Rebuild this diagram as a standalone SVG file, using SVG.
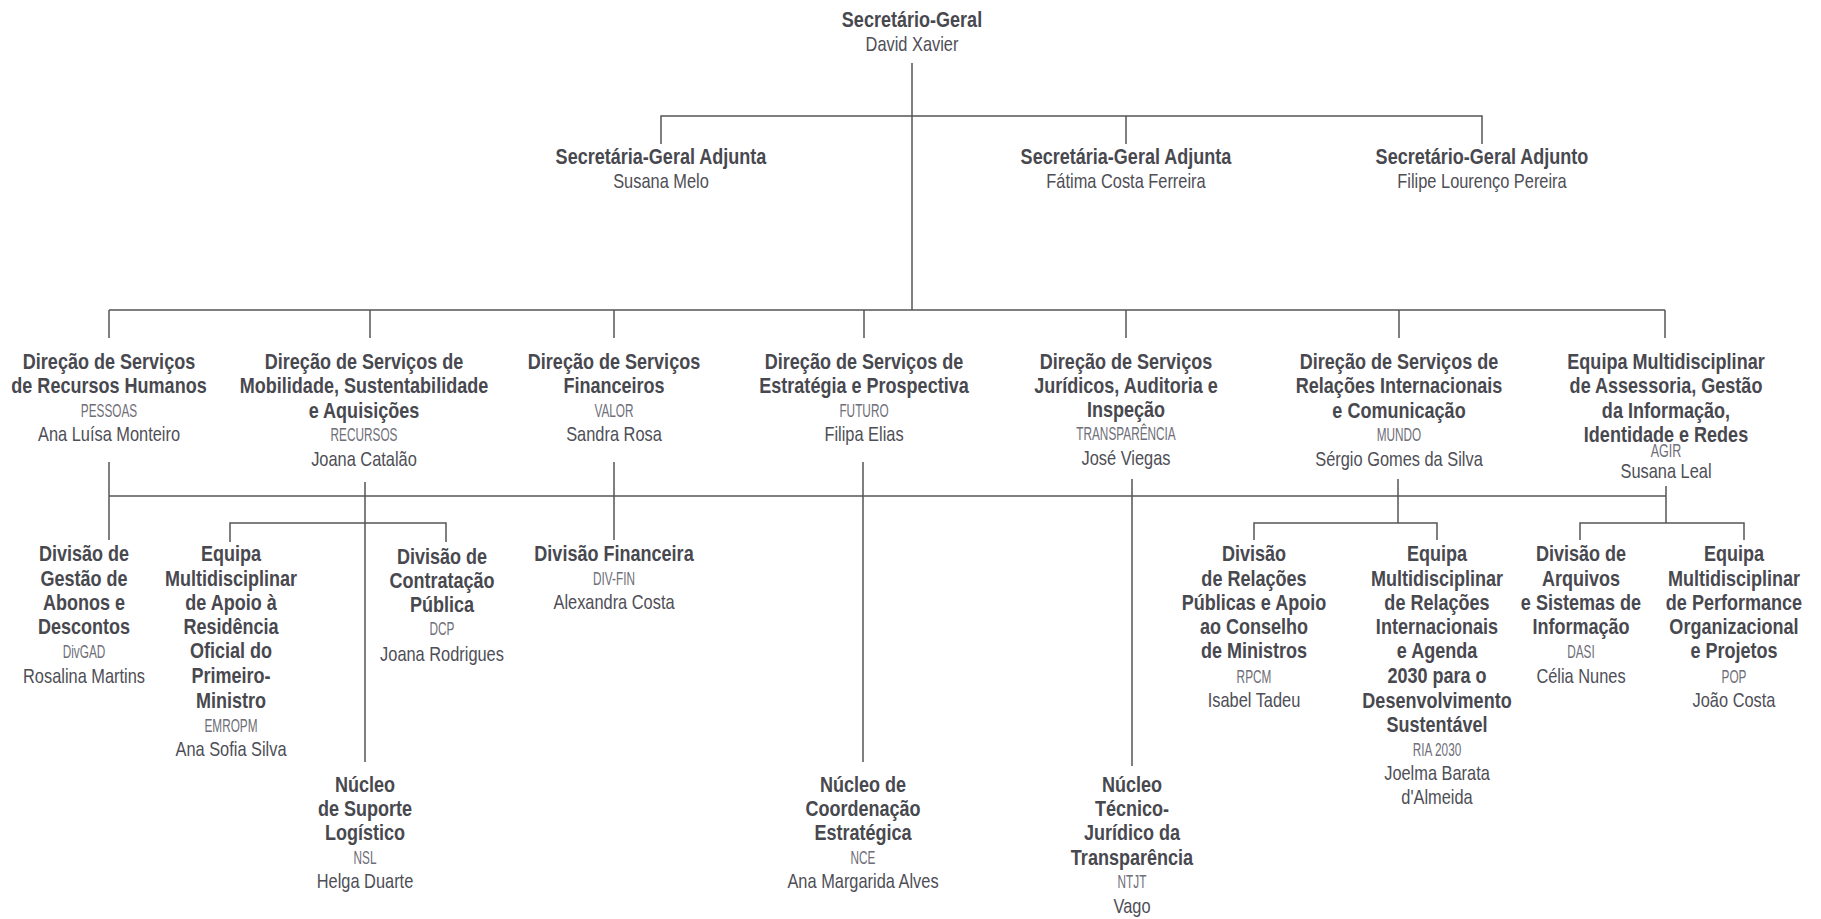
<svg xmlns="http://www.w3.org/2000/svg" width="1821" height="919" viewBox="0 0 1821 919">
<style>
text{font-family:"Liberation Sans",Arial,sans-serif;text-anchor:middle}
.b{font-size:22px;font-weight:bold;fill:#48484f}
.n{font-size:20px;fill:#4e4e56}
.c{font-size:18px;fill:#6e6e78}
.l{stroke:#555;stroke-width:1.5;fill:none}
</style>
<rect width="1821" height="919" fill="#fff"/>
<g id="connectors" class="l">
<path d="M912 63V310M661 144V116H1482V144M1126 116V144"/>
<path d="M109 310H1665M109 310V338M370 310V338M614 310V338M864 310V338M1126 310V338M1399 310V338M1665 310V338"/>
<path d="M109 496H1666"/>
<path d="M109 462V540M614 462V540M863 462V762M1132 479V766"/>
<path d="M365 482V762M230 542V523H446V542"/>
<path d="M1398 479V523M1254 540V523H1437V540"/>
<path d="M1666 486V523M1580 540V523H1744V540"/>
</g>
<g id="sg" transform="translate(912 0) scale(.82 1)">
<text class="b" y="27">Secretário-Geral</text>
<text class="n" y="51">David Xavier</text>
</g>
<g id="sga1" transform="translate(661 0) scale(.82 1)">
<text class="b" y="164">Secretária-Geral Adjunta</text>
<text class="n" y="188">Susana Melo</text>
</g>
<g id="sga2" transform="translate(1126 0) scale(.82 1)">
<text class="b" y="164">Secretária-Geral Adjunta</text>
<text class="n" y="188">Fátima Costa Ferreira</text>
</g>
<g id="sga3" transform="translate(1482 0) scale(.82 1)">
<text class="b" y="164">Secretário-Geral Adjunto</text>
<text class="n" y="188">Filipe Lourenço Pereira</text>
</g>
<g id="pessoas" transform="translate(109 0) scale(.82 1)">
<text class="b" y="369">Direção de Serviços</text>
<text class="b" y="393">de Recursos Humanos</text>
<text class="c" y="417" transform="scale(.8 1)">PESSOAS</text>
<text class="n" y="441">Ana Luísa Monteiro</text>
</g>
<g id="recursos" transform="translate(364 0) scale(.82 1)">
<text class="b" y="369">Direção de Serviços de</text>
<text class="b" y="393">Mobilidade, Sustentabilidade</text>
<text class="b" y="418">e Aquisições</text>
<text class="c" y="441" transform="scale(.8 1)">RECURSOS</text>
<text class="n" y="466">Joana Catalão</text>
</g>
<g id="valor" transform="translate(614 0) scale(.82 1)">
<text class="b" y="369">Direção de Serviços</text>
<text class="b" y="393">Financeiros</text>
<text class="c" y="417" transform="scale(.8 1)">VALOR</text>
<text class="n" y="441">Sandra Rosa</text>
</g>
<g id="futuro" transform="translate(864 0) scale(.82 1)">
<text class="b" y="369">Direção de Serviços de</text>
<text class="b" y="393">Estratégia e Prospectiva</text>
<text class="c" y="417" transform="scale(.8 1)">FUTURO</text>
<text class="n" y="441">Filipa Elias</text>
</g>
<g id="transparencia" transform="translate(1126 0) scale(.82 1)">
<text class="b" y="369">Direção de Serviços</text>
<text class="b" y="393">Jurídicos, Auditoria e</text>
<text class="b" y="417">Inspeção</text>
<text class="c" y="440" transform="scale(.8 1)">TRANSPARÊNCIA</text>
<text class="n" y="465">José Viegas</text>
</g>
<g id="mundo" transform="translate(1399 0) scale(.82 1)">
<text class="b" y="369">Direção de Serviços de</text>
<text class="b" y="393">Relações Internacionais</text>
<text class="b" y="418">e Comunicação</text>
<text class="c" y="441" transform="scale(.8 1)">MUNDO</text>
<text class="n" y="466">Sérgio Gomes da Silva</text>
</g>
<g id="agir" transform="translate(1666 0) scale(.82 1)">
<text class="b" y="369">Equipa Multidisciplinar</text>
<text class="b" y="393">de Assessoria, Gestão</text>
<text class="b" y="418">da Informação,</text>
<text class="b" y="442">Identidade e Redes</text>
<text class="c" y="457" font-size="15" transform="scale(.85 1)">AGIR</text>
<text class="n" y="478" font-size="19.5">Susana Leal</text>
</g>
<g id="divgad" transform="translate(84 0) scale(.82 1)">
<text class="b" y="561">Divisão de</text>
<text class="b" y="586">Gestão de</text>
<text class="b" y="610">Abonos e</text>
<text class="b" y="634">Descontos</text>
<text class="c" y="658" transform="scale(.8 1)">DivGAD</text>
<text class="n" y="683">Rosalina Martins</text>
</g>
<g id="emropm" transform="translate(231 0) scale(.82 1)">
<text class="b" y="561">Equipa</text>
<text class="b" y="586">Multidisciplinar</text>
<text class="b" y="610">de Apoio à</text>
<text class="b" y="634">Residência</text>
<text class="b" y="658">Oficial do</text>
<text class="b" y="683">Primeiro-</text>
<text class="b" y="708">Ministro</text>
<text class="c" y="732" transform="scale(.8 1)">EMROPM</text>
<text class="n" y="756">Ana Sofia Silva</text>
</g>
<g id="dcp" transform="translate(442 0) scale(.82 1)">
<text class="b" y="564">Divisão de</text>
<text class="b" y="588">Contratação</text>
<text class="b" y="612">Pública</text>
<text class="c" y="635" transform="scale(.8 1)">DCP</text>
<text class="n" y="661">Joana Rodrigues</text>
</g>
<g id="nsl" transform="translate(365 0) scale(.82 1)">
<text class="b" y="792">Núcleo</text>
<text class="b" y="816">de Suporte</text>
<text class="b" y="840">Logístico</text>
<text class="c" y="864" transform="scale(.8 1)">NSL</text>
<text class="n" y="888">Helga Duarte</text>
</g>
<g id="divfin" transform="translate(614 0) scale(.82 1)">
<text class="b" y="561">Divisão Financeira</text>
<text class="c" y="585" transform="scale(.8 1)">DIV-FIN</text>
<text class="n" y="609">Alexandra Costa</text>
</g>
<g id="nce" transform="translate(863 0) scale(.82 1)">
<text class="b" y="792">Núcleo de</text>
<text class="b" y="816">Coordenação</text>
<text class="b" y="840">Estratégica</text>
<text class="c" y="864" transform="scale(.8 1)">NCE</text>
<text class="n" y="888">Ana Margarida Alves</text>
</g>
<g id="ntjt" transform="translate(1132 0) scale(.82 1)">
<text class="b" y="792">Núcleo</text>
<text class="b" y="816">Técnico-</text>
<text class="b" y="840">Jurídico da</text>
<text class="b" y="865">Transparência</text>
<text class="c" y="888" transform="scale(.8 1)">NTJT</text>
<text class="n" y="913">Vago</text>
</g>
<g id="rpcm" transform="translate(1254 0) scale(.82 1)">
<text class="b" y="561">Divisão</text>
<text class="b" y="586">de Relações</text>
<text class="b" y="610">Públicas e Apoio</text>
<text class="b" y="634">ao Conselho</text>
<text class="b" y="658">de Ministros</text>
<text class="c" y="683" transform="scale(.8 1)">RPCM</text>
<text class="n" y="707">Isabel Tadeu</text>
</g>
<g id="ria2030" transform="translate(1437 0) scale(.82 1)">
<text class="b" y="561">Equipa</text>
<text class="b" y="586">Multidisciplinar</text>
<text class="b" y="610">de Relações</text>
<text class="b" y="634">Internacionais</text>
<text class="b" y="658">e Agenda</text>
<text class="b" y="683">2030 para o</text>
<text class="b" y="708">Desenvolvimento</text>
<text class="b" y="732">Sustentável</text>
<text class="c" y="756" transform="scale(.8 1)">RIA 2030</text>
<text class="n" y="780">Joelma Barata</text>
<text class="n" y="804">d'Almeida</text>
</g>
<g id="dasi" transform="translate(1581 0) scale(.82 1)">
<text class="b" y="561">Divisão de</text>
<text class="b" y="586">Arquivos</text>
<text class="b" y="610">e Sistemas de</text>
<text class="b" y="634">Informação</text>
<text class="c" y="658" transform="scale(.8 1)">DASI</text>
<text class="n" y="683">Célia Nunes</text>
</g>
<g id="pop" transform="translate(1734 0) scale(.82 1)">
<text class="b" y="561">Equipa</text>
<text class="b" y="586">Multidisciplinar</text>
<text class="b" y="610">de Performance</text>
<text class="b" y="634">Organizacional</text>
<text class="b" y="658">e Projetos</text>
<text class="c" y="683" transform="scale(.8 1)">POP</text>
<text class="n" y="707">João Costa</text>
</g>
</svg>
